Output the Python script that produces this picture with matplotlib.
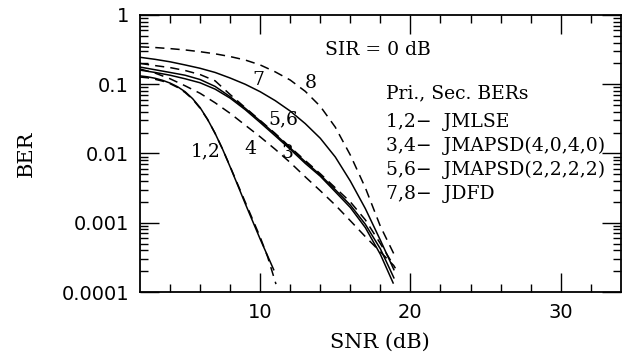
import numpy as np
import matplotlib
matplotlib.use("Agg")
import matplotlib.pyplot as plt
from matplotlib.ticker import FixedLocator, FixedFormatter, LogLocator, NullFormatter

# ── Data ────────────────────────────────────────────────────────────────
# JMLSE (1 = primary, solid; 2 = secondary, dashed)
snr_1 = [2, 2.5, 3, 3.5, 4, 4.5, 5, 5.5, 6, 6.5, 7, 7.5, 8, 8.5, 9, 10, 10.9]
ber_1 = [0.132, 0.128, 0.122, 0.114, 0.104, 0.092, 0.078, 0.062, 0.046, 0.031, 0.0195,
         0.0115, 0.0064, 0.0035, 0.0019, 0.00058, 0.00021]
snr_2 = [2, 2.5, 3, 3.5, 4, 4.5, 5, 5.5, 6, 6.5, 7, 7.5, 8, 8.5, 9, 10, 10.5, 11.05]
ber_2 = [0.127, 0.124, 0.118, 0.111, 0.102, 0.09, 0.076, 0.061, 0.045, 0.031, 0.0195,
         0.0115, 0.0065, 0.0036, 0.002, 0.00062, 0.00032, 0.00013]

snr_bundle = [2, 3, 4, 5, 6, 7, 8, 9, 10, 11, 12, 13, 14, 15, 16, 17, 18]

# JMAPSD(4,0,4,0)
snr_3 = snr_bundle + [18.85]
ber_3 = [0.16, 0.148, 0.135, 0.12, 0.105, 0.085, 0.063, 0.043, 0.028, 0.018, 0.0115,
         0.0072, 0.0047, 0.0028, 0.00166, 0.00085, 0.00035, 0.000135]
snr_4 = snr_bundle + [18.9]
ber_4 = [0.166, 0.145, 0.12, 0.095, 0.074, 0.054, 0.038, 0.0257, 0.0174, 0.0115, 0.0074,
         0.0046, 0.0029, 0.0018, 0.00107, 0.00063, 0.00038, 0.00024]

# JMAPSD(2,2,2,2)
snr_5 = snr_bundle + [18.9]
ber_5 = [0.177, 0.162, 0.148, 0.135, 0.117, 0.093, 0.066, 0.045, 0.0295, 0.019, 0.012,
         0.0076, 0.0049, 0.003, 0.0018, 0.00095, 0.00042, 0.00016]
snr_6 = snr_bundle + [19]
ber_6 = [0.2, 0.186, 0.174, 0.158, 0.138, 0.112, 0.071, 0.046, 0.03, 0.0195, 0.0123,
         0.0079, 0.0051, 0.0032, 0.002, 0.0011, 0.0005, 0.00022]

# JDFD
snr_7 = snr_bundle + [18.9]
ber_7 = [0.245, 0.229, 0.211, 0.19, 0.17, 0.148, 0.123, 0.1, 0.078, 0.058, 0.041,
         0.027, 0.0166, 0.0089, 0.004, 0.0016, 0.00056, 0.00021]
snr_8 = snr_bundle + [19]
ber_8 = [0.347, 0.339, 0.327, 0.313, 0.295, 0.275, 0.251, 0.224, 0.19, 0.151, 0.115,
         0.079, 0.048, 0.024, 0.0095, 0.0032, 0.00089, 0.00032]

curve_labels = ["7", "8", "5,6", "1,2", "4", "3"]
curve_label_x = [9.9, 13.35, 11.55, 6.35, 9.35, 11.8]
curve_label_y = [0.115, 0.104, 0.031, 0.0106, 0.0117, 0.0101]

legend_lines = ["Pri., Sec. BERs", "1,2\u2212  JMLSE", "3,4\u2212  JMAPSD(4,0,4,0)",
                "5,6\u2212  JMAPSD(2,2,2,2)", "7,8\u2212  JDFD"]
legend_y = [0.074, 0.0284, 0.0128, 0.0058, 0.0026]

x_major = [10, 20, 30]
y_major = [1e-4, 1e-3, 1e-2, 1e-1, 1]
y_labels = ["0.0001", "0.001", "0.01", "0.1", "1"]

# ── Plot ────────────────────────────────────────────────────────────────
SERIF = "DejaVu Serif"
fig = plt.figure(figsize=(6.27, 3.64), dpi=100)
ax = fig.add_axes([0.2233, 0.1978, 0.7667, 0.761])

solid = dict(color="black", lw=1.1, ls="-")
dash = dict(color="black", lw=1.1, ls=(0, (6, 4)))

ax.plot(snr_1, ber_1, **solid)
ax.plot(snr_2, ber_2, **dash)
ax.plot(snr_3, ber_3, **solid)
ax.plot(snr_4, ber_4, **dash)
ax.plot(snr_5, ber_5, **solid)
ax.plot(snr_6, ber_6, **dash)
ax.plot(snr_7, ber_7, **solid)
ax.plot(snr_8, ber_8, **dash)

ax.set_yscale("log")
ax.set_xlim(2, 34)
ax.set_ylim(1e-4, 1)

ax.xaxis.set_major_locator(FixedLocator(x_major))
ax.xaxis.set_minor_locator(FixedLocator(np.arange(4, 34, 2)))
ax.yaxis.set_major_locator(FixedLocator(y_major))
ax.yaxis.set_major_formatter(FixedFormatter(y_labels))
ax.yaxis.set_minor_locator(LogLocator(base=10, subs=np.arange(2, 10)))
ax.yaxis.set_minor_formatter(NullFormatter())

ax.tick_params(which="both", direction="in", top=True, right=True, width=1.0)
ax.tick_params(which="major", length=14, labelsize=14, pad=8)
ax.tick_params(which="minor", length=6)
for s in ax.spines.values():
    s.set_linewidth(1.3)

ax.set_xlabel("SNR (dB)", fontsize=15, family=SERIF, labelpad=8)
ax.set_ylabel("BER", fontsize=15, family=SERIF, labelpad=18)

ax.text(14.3, 0.31, "SIR = 0 dB", fontsize=13.5, family=SERIF, va="center")
for t, yy in zip(legend_lines, legend_y):
    ax.text(18.4, yy, t, fontsize=13.5, family=SERIF, va="center")
for t, xx, yy in zip(curve_labels, curve_label_x, curve_label_y):
    ax.text(xx, yy, t, fontsize=13.5, family=SERIF, va="center", ha="center")

fig.savefig("out.png", dpi=100)
